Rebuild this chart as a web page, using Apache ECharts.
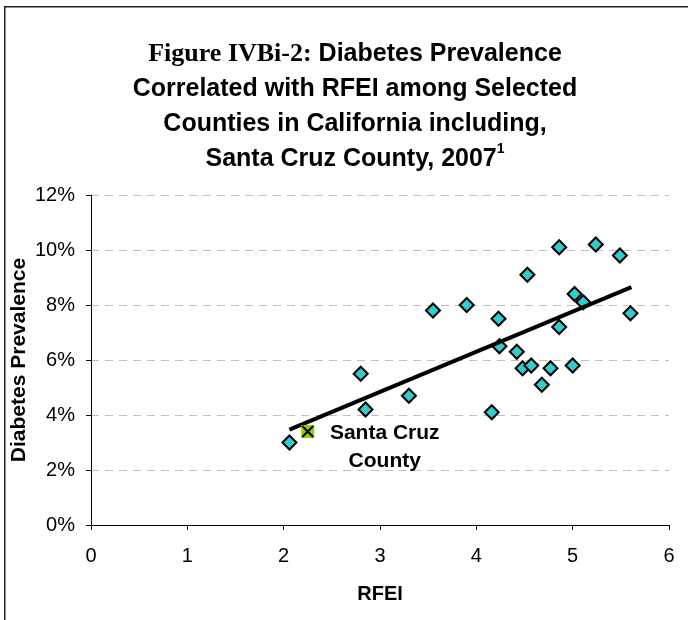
<!DOCTYPE html>
<html>
<head>
<meta charset="utf-8">
<script src="https://cdn.jsdelivr.net/npm/echarts@6/dist/echarts.min.js"></script>
<style>
  html, body { margin: 0; padding: 0; background: #fff; }
  #chart { width: 688px; height: 620px; }
</style>
</head>
<body>
<div id="chart"></div>
<script>
// County values: Retail Food Environment Index vs. diabetes prevalence (%)
const rfei = [2.06, 2.80, 2.85, 3.30, 3.55, 3.90, 4.16, 4.23, 4.24, 4.42, 4.48, 4.53,
              4.57, 4.68, 4.77, 4.86, 4.86, 5.00, 5.02, 5.11, 5.24, 5.49, 5.60];
const prevalence = [3.0, 5.5, 4.2, 4.7, 7.8, 8.0, 4.1, 7.5, 6.5, 6.3, 5.7, 9.1,
                    5.8, 5.1, 5.7, 10.1, 7.2, 5.8, 8.4, 8.1, 10.2, 9.8, 7.7];

// Highlighted county
const highlightName = 'Santa Cruz\nCounty';
const highlightRfei = [2.25];
const highlightPrevalence = [3.4];

// Linear trend line end points
const trendRfei = [2.06, 5.61];
const trendPrevalence = [3.47, 8.65];

// Axis ticks
const xTicks = [0, 1, 2, 3, 4, 5, 6];
const yTicks = [0, 2, 4, 6, 8, 10, 12];

const sans = '"Liberation Sans", Arial, sans-serif';
const serif = '"Liberation Serif", "DejaVu Serif", serif';

const pts = rfei.map((x, i) => [x, prevalence[i]]);
const hl = highlightRfei.map((x, i) => [x, highlightPrevalence[i]]);
const trend = trendRfei.map((x, i) => [x, trendPrevalence[i]]);

const chart = echarts.init(document.getElementById('chart'), null, { renderer: 'canvas' });

chart.setOption({
  animation: false,
  backgroundColor: '#ffffff',
  title: {
    text: '{fig|Figure IVBi-2:} Diabetes Prevalence\nCorrelated with RFEI among Selected\nCounties in California including,\nSanta Cruz County, 2007{sup|1}',
    left: 350,
    top: 32,
    textAlign: 'center',
    textStyle: {
      fontFamily: sans,
      fontWeight: 'bold',
      fontSize: 25,
      lineHeight: 35,
      color: '#000',
      rich: {
        fig: { fontFamily: serif, fontWeight: 'bold', fontSize: 26, lineHeight: 35, color: '#000' },
        sup: { fontFamily: sans, fontWeight: 'bold', fontSize: 14, lineHeight: 35, color: '#000', verticalAlign: 'top', padding: [0, 0, 14, 0] }
      }
    }
  },
  graphic: [{
    type: 'rect',
    shape: { x: 4.75, y: 6.75, width: 720, height: 720 },
    style: { fill: 'none', stroke: '#222', lineWidth: 1.5 },
    silent: true,
    z: 100
  }],
  grid: { left: 91, right: 19, top: 195, bottom: 95, containLabel: false, outerBoundsMode: 'none' },
  xAxis: {
    type: 'value',
    min: xTicks[0],
    max: xTicks[xTicks.length - 1],
    interval: 1,
    name: 'RFEI',
    nameLocation: 'middle',
    nameGap: 59,
    nameMoveOverlap: false,
    nameTextStyle: { fontFamily: sans, fontWeight: 'bold', fontSize: 20, color: '#000' },
    axisLine: { show: true, lineStyle: { color: '#000', width: 1 } },
    axisTick: { show: true, length: 5, lineStyle: { color: '#000' } },
    axisLabel: { fontFamily: sans, fontSize: 20, color: '#000', margin: 21 },
    splitLine: { show: false }
  },
  yAxis: {
    type: 'value',
    min: yTicks[0],
    max: yTicks[yTicks.length - 1],
    interval: 2,
    name: 'Diabetes Prevalence',
    nameLocation: 'middle',
    nameGap: 61,
    nameMoveOverlap: false,
    nameTextStyle: { fontFamily: sans, fontWeight: 'bold', fontSize: 21, color: '#000' },
    axisLine: { show: true, lineStyle: { color: '#000', width: 1 } },
    axisTick: { show: true, length: 5, lineStyle: { color: '#000' } },
    axisLabel: { fontFamily: sans, fontSize: 20, color: '#000', margin: 16, formatter: '{value}%' },
    splitLine: { show: true, lineStyle: { color: '#c0c0c0', type: [8, 6], width: 1 } }
  },
  series: [
    {
      name: 'Counties',
      type: 'scatter',
      data: pts,
      symbol: 'diamond',
      symbolSize: 14,
      itemStyle: { color: '#33CCCC', borderColor: '#000', borderWidth: 2, opacity: 1 },
      z: 2
    },
    {
      name: 'Trend',
      type: 'line',
      data: trend,
      symbol: 'none',
      lineStyle: { color: '#000', width: 4 },
      z: 3
    },
    {
      name: 'Santa Cruz',
      type: 'scatter',
      data: hl,
      symbol: 'rect',
      symbolSize: 13,
      itemStyle: { color: '#99CC00', opacity: 1 },
      label: {
        show: true,
        formatter: highlightName,
        position: [83.5, 22.5],
        align: 'center',
        verticalAlign: 'middle',
        fontFamily: sans,
        fontWeight: 'bold',
        fontSize: 21,
        lineHeight: 28,
        color: '#000'
      },
      z: 4
    },
    {
      name: 'Santa Cruz mark',
      type: 'scatter',
      data: hl,
      symbol: 'path://M0,0L10,10M10,0L0,10',
      symbolSize: 11,
      itemStyle: { color: 'none', borderColor: '#000', borderWidth: 2, opacity: 1 },
      z: 5
    }
  ]
});
</script>
</body>
</html>
